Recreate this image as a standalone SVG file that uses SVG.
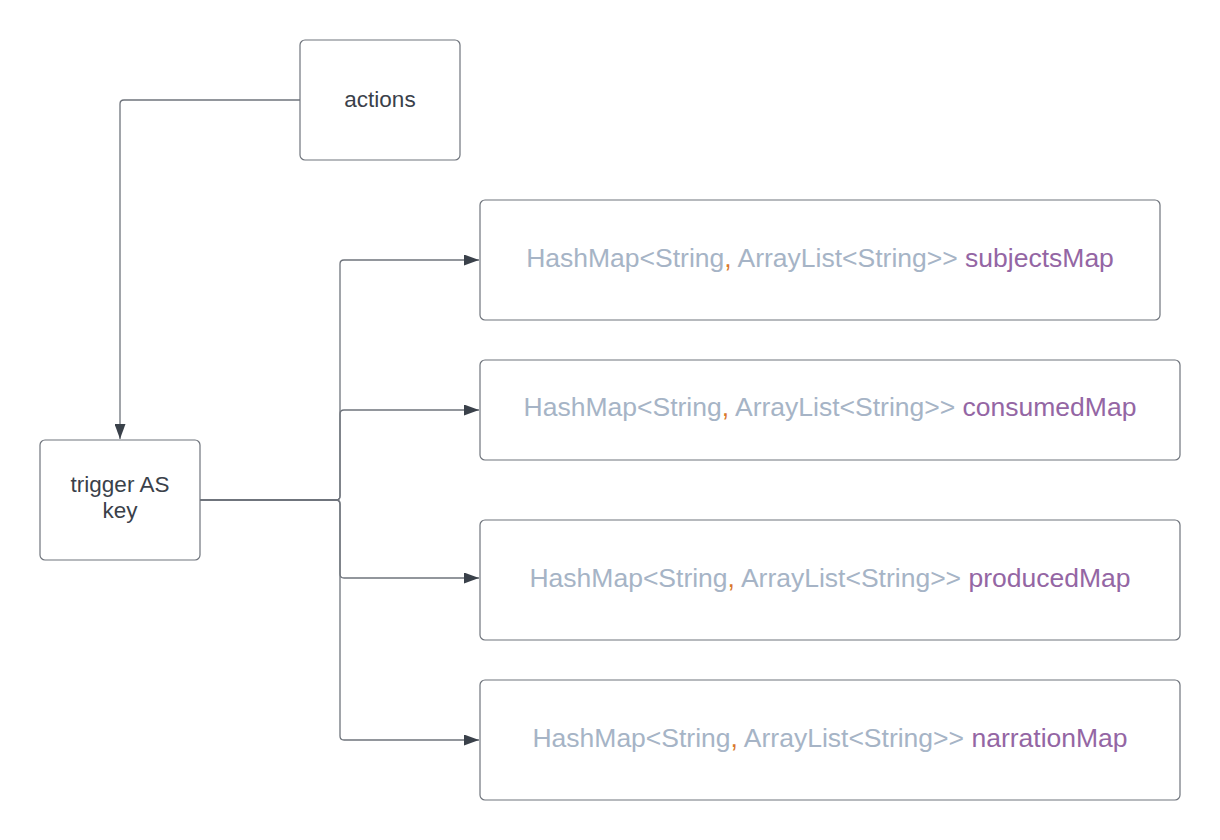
<svg xmlns="http://www.w3.org/2000/svg" width="1220" height="840" viewBox="0 0 1220 840">
<defs>
<style>
.box{fill:#fff;stroke:#6f747c;stroke-width:1.2}
.lbl{font-family:"Liberation Sans",Arial,sans-serif;font-size:22.5px;fill:#3a414a;text-anchor:middle}
.code{font-family:"Liberation Sans",Arial,sans-serif;font-size:26.5px;text-anchor:middle;fill:#a6b4c6}
.c{fill:#d9782d}
.v{fill:#9466a4}
.edge{fill:none;stroke:#6f747c;stroke-width:1.3}
</style>
<marker id="arr" viewBox="0 0 15 11" refX="15" refY="5.5" markerWidth="15" markerHeight="11" markerUnits="userSpaceOnUse" orient="auto">
<path d="M0,0 L15,5.5 L0,11 Z" fill="#3a414a"/>
</marker>
</defs>
<rect width="1220" height="840" fill="#fff"/>
<g id="connectors">
<path class="edge" d="M300,100 H124 Q120,100 120,104 V439" marker-end="url(#arr)"/>
<path class="edge" d="M200,500 H336 Q340,500 340,496 V264 Q340,260 344,260 H479" marker-end="url(#arr)"/>
<path class="edge" d="M200,500 H336 Q340,500 340,496 V414 Q340,410 344,410 H479" marker-end="url(#arr)"/>
<path class="edge" d="M200,500 H336 Q340,500 340,504 V574 Q340,578 344,578 H479" marker-end="url(#arr)"/>
<path class="edge" d="M200,500 H336 Q340,500 340,504 V736 Q340,740 344,740 H479" marker-end="url(#arr)"/>
</g>
<g id="actions">
<rect class="box" x="300" y="40" width="160" height="120" rx="5"/>
<text class="lbl" x="380" y="107">actions</text>
</g>
<g id="trigger">
<rect class="box" x="40" y="440" width="160" height="120" rx="5"/>
<text class="lbl" x="120" y="492">trigger AS</text>
<text class="lbl" x="120" y="518">key</text>
</g>
<g id="subjectsMap">
<rect class="box" x="480" y="200" width="680" height="120" rx="5"/>
<text class="code" x="820" y="267">HashMap&lt;String<tspan class="c">,</tspan> ArrayList&lt;String&gt;&gt; <tspan class="v">subjectsMap</tspan></text>
</g>
<g id="consumedMap">
<rect class="box" x="480" y="360" width="700" height="100" rx="5"/>
<text class="code" x="830" y="416">HashMap&lt;String<tspan class="c">,</tspan> ArrayList&lt;String&gt;&gt; <tspan class="v">consumedMap</tspan></text>
</g>
<g id="producedMap">
<rect class="box" x="480" y="520" width="700" height="120" rx="5"/>
<text class="code" x="830" y="587">HashMap&lt;String<tspan class="c">,</tspan> ArrayList&lt;String&gt;&gt; <tspan class="v">producedMap</tspan></text>
</g>
<g id="narrationMap">
<rect class="box" x="480" y="680" width="700" height="120" rx="5"/>
<text class="code" x="830" y="747">HashMap&lt;String<tspan class="c">,</tspan> ArrayList&lt;String&gt;&gt; <tspan class="v">narrationMap</tspan></text>
</g>
</svg>
